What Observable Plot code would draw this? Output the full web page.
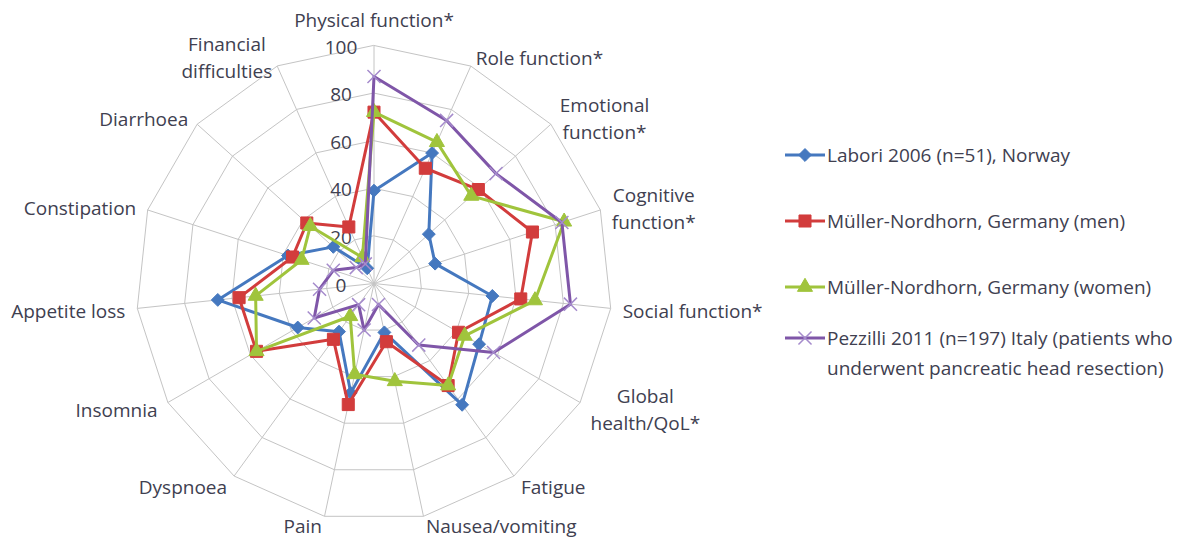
<!DOCTYPE html>
<html><head><meta charset="utf-8">
<script src="https://cdn.jsdelivr.net/npm/d3@7"></script>
<script src="https://cdn.jsdelivr.net/npm/@observablehq/plot@0.6"></script>
<style>
body{margin:0;background:#fff;font-family:"Open Sans",Lato,sans-serif;}
#wrap{position:relative;width:1193px;height:538px;overflow:hidden;}
#chart{position:absolute;left:0;top:0;}
#legend{position:absolute;left:783px;top:122px;width:410px;}
.item{height:66px;display:flex;align-items:center;}
.inner{display:flex;align-items:flex-start;}
.txt{font-size:19px;line-height:30px;color:#404050;white-space:nowrap;}
.sym{width:44px;height:30px;flex:none;}
</style></head><body>
<div id="wrap"><div id="chart"></div><div id="legend"></div></div>
<script>
// ---- data ----
const axes = ["Physical function*","Role function*","Emotional\nfunction*","Cognitive\nfunction*","Social function*","Global\nhealth/QoL*","Fatigue","Nausea/vomiting","Pain","Dyspnoea","Insomnia","Appetite loss","Constipation","Diarrhoea","Financial\ndifficulties"];
const labori      = [39, 60, 31, 27, 50, 51, 63, 21, 47, 25, 37, 66, 38, 23, 7];
const mullerMen   = [72, 53, 59, 70, 62, 41, 53, 25, 52, 29, 57, 57, 36, 38, 26];
const mullerWomen = [72, 65, 55, 84, 68, 44, 53, 42, 39, 17, 57, 50, 32, 36, 12];
const pezzilli    = [87, 75, 69, 83, 83, 58, 32, 9, 20, 11, 29, 23, 18, 10, 9];
const seriesNames = ["Labori 2006 (n=51), Norway","Müller-Nordhorn, Germany (men)","Müller-Nordhorn, Germany (women)","Pezzilli 2011 (n=197) Italy (patients who\nunderwent pancreatic head resection)"];
const seriesValues = [labori, mullerMen, mullerWomen, pezzilli];
const ringTicks = [0, 20, 40, 60, 80, 100];

// ---- style ----
const colors = ["#4578bf", "#d23c3c", "#a0c43c", "#7f56a8"];
const markerStroke = ["#4578bf", "#d23c3c", "#a0c43c", "#a58bcc"];
const symbols = ["diamond2", "square", "triangle", "times"];
const markerR = [5.8, 6.8, 5.6, 6];
const textColor = "#404050";
const gridColor = "#c4c4c4";
const fontSize = 19;
const fontFamily = "'Open Sans', Lato, sans-serif";

// ---- geometry ----
const W = 780, H = 538, cx = 373.5, cy = 283, k = 2.38; // px per unit
const n = axes.length;
const ang = i => i * 2 * Math.PI / n;
const px = (i, v) => v * Math.sin(ang(i));
const py = (i, v) => v * Math.cos(ang(i));
const maxV = ringTicks[ringTicks.length - 1];

const ringData = ringTicks.slice(1).flatMap(r => axes.map((a, i) => ({r, x: px(i, r), y: py(i, r)})));
const spokeData = axes.map((a, i) => ({x1: 0, y1: 0, x2: px(i, maxV), y2: py(i, maxV)}));

const seriesData = seriesNames.map((name, s) =>
  seriesValues[s].map((v, i) => ({name, axis: axes[i], value: v, x: px(i, v), y: py(i, v)})));

// text measurement
const ctx = document.createElement("canvas").getContext("2d");
ctx.font = `${fontSize}px ${fontFamily}`;
const lineH = 27;
const labelData = axes.map((a, i) => {
  const s = Math.sin(ang(i)), c = Math.cos(ang(i));
  const bw = d3.max(a.split("\n"), l => ctx.measureText(l).width);
  let ox, oy;
  if (Math.abs(s) < 0.05) { ox = 0; oy = c * 27; }
  else { ox = s * 12 + Math.sign(s) * bw / 2; oy = c < -0.9 ? c * 8 : c * 11; }
  return {text: a, x: px(i, maxV) + ox / k, y: py(i, maxV) + oy / k};
});

const marks = [
  Plot.line(ringData, {x: "x", y: "y", z: "r", curve: "linear-closed", stroke: gridColor, strokeWidth: 1}),
  Plot.link(spokeData, {x1: "x1", y1: "y1", x2: "x2", y2: "y2", stroke: gridColor, strokeWidth: 1}),
  Plot.text(ringTicks, {x: d => 0, y: d => d, text: d => String(d), dx: -33, dy: 2, textAnchor: "middle", fill: textColor, fontSize}),
  Plot.text(labelData, {x: "x", y: "y", text: "text", textAnchor: "middle", lineAnchor: "middle", lineHeight: lineH / fontSize, fill: textColor, fontSize})
];
seriesData.forEach((d, s) => {
  marks.push(Plot.line(d, {x: "x", y: "y", curve: "linear-closed", stroke: colors[s], strokeWidth: 3, strokeLinejoin: "round"}));
  if (symbols[s] === "times") {
    marks.push(Plot.dot(d, {x: "x", y: "y", symbol: symbols[s], r: markerR[s], stroke: markerStroke[s], strokeWidth: 1.5, fill: "none"}));
  } else {
    marks.push(Plot.dot(d, {x: "x", y: "y", symbol: symbols[s], r: markerR[s], fill: colors[s], stroke: markerStroke[s], strokeWidth: 1}));
  }
});

const chart = Plot.plot({
  width: W, height: H,
  margin: 0,
  x: {domain: [-cx / k, (W - cx) / k], axis: null},
  y: {domain: [-(H - cy) / k, cy / k], axis: null},
  style: {fontFamily, fontSize: fontSize + "px", background: "transparent"},
  marks
});
document.getElementById("chart").appendChild(chart);

// ---- legend ----
const legend = d3.select("#legend");
const typeMap = {diamond2: d3.symbolDiamond2, square: d3.symbolSquare, triangle: d3.symbolTriangle, times: d3.symbolTimes};
seriesNames.forEach((name, s) => {
  const item = legend.append("div").attr("class", "item").append("div").attr("class", "inner");
  const svg = item.append("svg").attr("class", "sym").attr("width", 44).attr("height", 30);
  svg.append("line").attr("x1", 2).attr("x2", 42).attr("y1", 15).attr("y2", 15).attr("stroke", colors[s]).attr("stroke-width", 3);
  const r = markerR[s];
  const path = svg.append("path").attr("transform", "translate(22,15)")
    .attr("d", d3.symbol(typeMap[symbols[s]], Math.PI * r * r)());
  if (symbols[s] === "times") path.attr("fill", "none").attr("stroke", markerStroke[s]).attr("stroke-width", 1.5);
  else path.attr("fill", colors[s]).attr("stroke", markerStroke[s]);
  const t = item.append("div").attr("class", "txt");
  name.split("\n").forEach(l => t.append("div").text(l));
});
</script>
</body></html>
